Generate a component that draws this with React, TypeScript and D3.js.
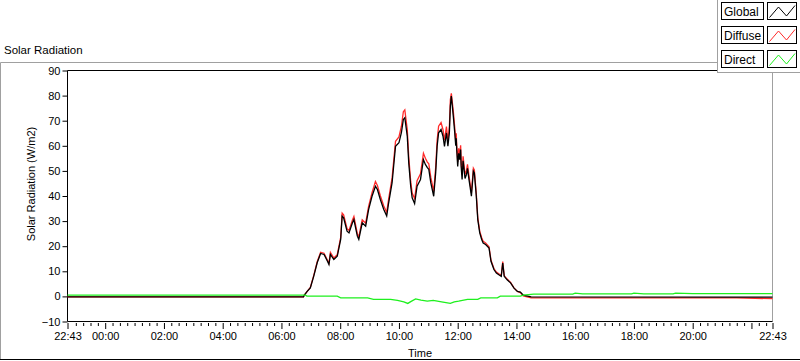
import React, { useEffect, useRef } from 'react';
import * as d3 from 'd3';

const width = 800;
const height = 361;

// minutes from 00:00 of the plotted day (22:43 the evening before is -77)
const globalMinutes = [
  -77, 405, 406, 413, 419, 426, 433, 440, 447, 454, 457, 460, 467, 474, 481, 484, 487, 494, 498, 505,
  508, 515, 518, 525, 532, 538, 545, 552, 556, 562, 569, 575, 579, 586, 593, 600, 605, 609, 612, 617,
  620, 624, 627, 632, 637, 644, 650, 654, 658, 661, 665, 671, 675, 678, 681, 686, 690, 693, 697, 700,
  703, 705, 707,
  711, 714, 716, 717, 718, 720, 722, 724, 726, 727, 729, 731, 733, 735, 738, 740, 743, 745, 748, 752, 754, 758,
  761, 765, 769, 772, 777, 784, 788, 794, 799, 804, 809, 812, 815, 821, 828, 835, 842, 848, 854, 870, 1290, 1363,
];
const globalValues = [
  -0.2, -0.2, 0.3, 2.1, 3.4, 8.1, 13.4, 17.1, 16.7, 14, 12.7, 16.7, 14.7, 16, 22.7, 32, 31.3, 26, 25.3, 29.3,
  30.6, 24, 22.7, 29.3, 28, 34.6, 39.9, 43.9, 42.6, 38.6, 34.6, 32, 37.3, 45.3, 59.8, 61.2, 65.2, 70.5, 71.2, 63.8,
  53.2, 43.9, 39.3, 37, 43.9, 46.6, 54.5, 52.6, 51.3, 50.6, 45.3, 39.9, 49.2, 59.8, 65.2, 66.5, 63.8, 59.8, 65.2, 59.8,
  65.2, 75.8, 79.8,
  71.8, 65.2, 60, 63, 58.5, 51.8, 57, 54.5, 58.5, 52, 46.6, 54, 50.6, 47, 48.6, 51, 46.6, 44, 39.9, 49.9, 49.2, 39.9,
  30.6, 25.3, 22.7, 21.3, 20.7, 19.3, 14, 10.7, 9.3, 8.6, 8, 13.3, 8, 6.6, 5.4, 3.3, 2, 1.7, 0.5, -0.2, -0.3, -0.3,
];
const diffuseValues = [
  -0.2, -0.2, 0.3, 2.1, 3.6, 8.4, 13.8, 17.6, 17.2, 14.4, 13.2, 17.5, 15.3, 16.6, 23.5, 33.2, 32.5, 27, 26.3, 30.4,
  31.8, 25, 23.7, 30.5, 29.2, 35.9, 41.3, 45.8, 44.2, 40.1, 36, 33.5, 38.9, 47.2, 61.8, 63.5, 67.8, 73.6, 74.3, 66.5,
  55.6, 45.8, 41.2, 39, 46.1, 48.8, 57, 55, 53.5, 52.8, 47.5, 41.8, 51.3, 62.2, 67.8, 69.3, 66.4, 62.2, 67.7, 62.1,
  67.6, 78.4, 80.9,
  73.8, 67.2, 61.8, 65, 60.3, 53.6, 59, 56.4, 60.2, 53.8, 48.3, 55.8, 52.2, 48.6, 50.2, 52.6, 48.1, 45.4, 41.2, 51.1, 50.4, 40.9,
  31.4, 26, 23.4, 22, 21.3, 19.8, 14.4, 11.1, 9.7, 9, 8.4, 13.9, 8.3, 6.9, 5.6, 3.4, 2, 1.5, 0.2, -0.6, -0.6, -0.9,
];
const directMinutes = [
  -77, 409, 412, 474, 481, 536, 548, 583, 597, 610, 618, 625, 634, 645, 658, 670, 690, 705, 713, 722,
  740, 761, 767, 801, 807, 848, 854, 875, 955, 960, 975, 1075, 1080, 1100, 1160, 1165, 1200, 1363,
];
const directValues = [
  0.5, 0.5, 0.1, 0.1, -0.6, -0.6, -1.2, -1.2, -1.6, -2.2, -2.8, -2, -1, -1.5, -1.9, -1.6, -2.3, -2.8, -2.2, -1.9,
  -1.2, -1.2, -0.6, -0.6, 0.1, 0.1, 0.5, 0.9, 0.9, 1.3, 1.0, 1.0, 1.3, 1.0, 1.0, 1.3, 1.1, 1.1,
];

const yTicks = [-10, 0, 10, 20, 30, 40, 50, 60, 70, 80, 90];
const majorTickMinutes = [-77, 0, 120, 240, 360, 480, 600, 720, 840, 960, 1080, 1200, 1320, 1363];
const labelledMinutes = [-77, 0, 120, 240, 360, 480, 600, 720, 840, 960, 1080, 1200, 1363];
const legendNames = ['Global', 'Diffuse', 'Direct'];
const legendColors = ['#000000', '#ff2a2a', '#1ef01e'];

const base = new Date(2024, 0, 2, 0, 0).getTime();
const toDate = (m: number) => new Date(base + m * 60000);
const font = '"Liberation Sans", Arial, sans-serif';

const App = () => {
  const svgRef = useRef<SVGSVGElement>(null);

  useEffect(() => {
    const svg = d3.select(svgRef.current);
    svg.selectAll('*').remove();

    const x = d3.scaleTime().domain([toDate(-77), toDate(1363)]).range([67.5, 772.5]);
    const y = d3.scaleLinear().domain([-10, 90]).range([321.5, 70.5]);

    svg.append('rect').attr('width', width).attr('height', height).attr('fill', '#fff');

    // outer frame
    svg.append('path').attr('d', 'M0.5,359 V62.5 H717').attr('fill', 'none').attr('stroke', '#a0a0a0');
    svg.append('line').attr('x1', 0).attr('x2', 800).attr('y1', 359.5).attr('y2', 359.5).attr('stroke', '#000');

    svg.append('text').attr('x', 4).attr('y', 54).attr('font-family', font).attr('font-size', 11.5)
      .text('Solar Radiation');

    // plot border
    svg.append('line').attr('x1', 772.5).attr('x2', 772.5).attr('y1', 70.5).attr('y2', 321.5).attr('stroke', '#a0a0a0');
    svg.append('path').attr('d', 'M772.5,70.5 H67.5 V321.5 H772.5').attr('fill', 'none').attr('stroke', '#000');

    // y axis
    const yAxis = svg.append('g').attr('transform', 'translate(67.5,0)')
      .call(d3.axisLeft(y).tickValues(yTicks).tickSize(5).tickPadding(2).tickFormat(d3.format('d')));
    yAxis.select('.domain').remove();
    yAxis.selectAll('text').attr('font-family', font).attr('font-size', 11).attr('fill', '#000');

    // x axis: minor ticks every 15 min, major every 2 h
    const minor = d3.range(-60, 1363, 15).filter(m => m % 120 !== 0).map(toDate);
    const xMinor = svg.append('g').attr('transform', 'translate(0,323)')
      .call(d3.axisBottom(x).tickValues(minor).tickSize(3).tickFormat(() => ''));
    xMinor.select('.domain').remove();

    const xMajor = svg.append('g').attr('transform', 'translate(0,323)')
      .call(d3.axisBottom(x).tickValues(majorTickMinutes.map(toDate)).tickSize(6).tickPadding(3)
        .tickFormat((d) => {
          const m = Math.round(((d as Date).getTime() - base) / 60000);
          return labelledMinutes.includes(m) ? d3.timeFormat('%H:%M')(d as Date) : '';
        }));
    xMajor.select('.domain').remove();
    xMajor.selectAll('text').attr('font-family', font).attr('font-size', 11).attr('fill', '#000');

    svg.append('text').attr('x', 420).attr('y', 357).attr('text-anchor', 'middle')
      .attr('font-family', font).attr('font-size', 11).text('Time');
    svg.append('text').attr('transform', 'translate(35,184) rotate(-90)').attr('text-anchor', 'middle')
      .attr('font-family', font).attr('font-size', 11).text('Solar Radiation (W/m2)');

    // series
    const line = d3.line<[number, number]>()
      .x(d => x(toDate(d[0])))
      .y(d => y(d[1]));
    const series = [
      { m: globalMinutes, v: diffuseValues, c: legendColors[1] },
      { m: globalMinutes, v: globalValues, c: legendColors[0] },
      { m: directMinutes, v: directValues, c: legendColors[2] },
    ];
    series.forEach(s => {
      svg.append('path')
        .datum(s.m.map((m, i) => [m, s.v[i]] as [number, number]))
        .attr('d', line)
        .attr('fill', 'none')
        .attr('stroke', s.c)
        .attr('stroke-width', 1.3);
    });

    // legend
    svg.append('rect').attr('x', 717.5).attr('y', -1).attr('width', 90).attr('height', 73.5)
      .attr('fill', '#fff').attr('stroke', '#a0a0a0');
    legendNames.forEach((name, i) => {
      const top = 2.5 + i * 24;
      const g = svg.append('g').attr('transform', `translate(0,${top})`);
      g.append('rect').attr('x', 721.5).attr('width', 42).attr('height', 17)
        .attr('fill', '#fff').attr('stroke', '#000');
      g.append('text').attr('x', 724).attr('y', 13).attr('font-family', font).attr('font-size', 12)
        .text(name);
      g.append('rect').attr('x', 767.5).attr('width', 29).attr('height', 17)
        .attr('fill', '#fff').attr('stroke', '#000');
      g.append('path').attr('d', 'M769.5,15 L778.5,4.5 L786.5,13.5 L795,3')
        .attr('fill', 'none').attr('stroke', legendColors[i]);
    });
  }, []);

  return (
    <svg ref={svgRef} width={width} height={height} style={{ position: 'absolute', left: 0, top: 0 }}></svg>
  );
};

export default App;
